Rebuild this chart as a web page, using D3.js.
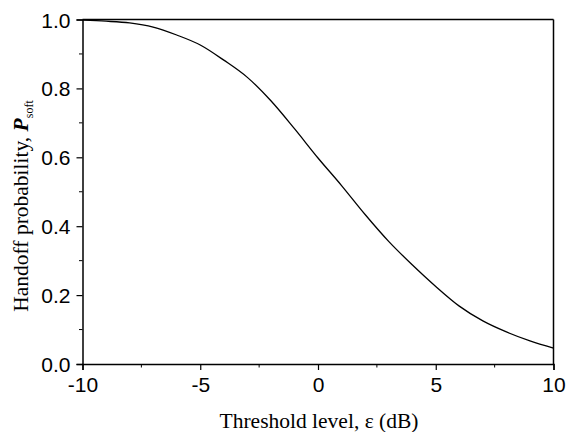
<!DOCTYPE html>
<html>
<head>
<meta charset="utf-8">
<script src="https://cdn.jsdelivr.net/npm/d3@7"></script>
<style>
  body { margin: 0; background: #fff; }
  svg { display: block; }
</style>
</head>
<body>
<svg id="chart"></svg>
<script>
const w = 566
const h = 432

// threshold level (dB) and soft handoff probability
const thresholds = [-10, -9, -8, -7, -6, -5, -4, -3, -2, -1, 0, 1, 2, 3, 4, 5, 6, 7, 8, 9, 10]
const probs = [0.998, 0.995, 0.99, 0.978, 0.955, 0.926, 0.882, 0.832, 0.764, 0.683, 0.598, 0.518, 0.434, 0.356, 0.288, 0.225, 0.168, 0.125, 0.093, 0.067, 0.046]
const xTicks = [-10, -5, 0, 5, 10]
const yTicks = [0.0, 0.2, 0.4, 0.6, 0.8, 1.0]

const margin = { left: 82.5, top: 19.5, right: 12.5, bottom: 68 }

const svg = d3.select('#chart')
	.attr('width', w)
	.attr('height', h)

const x = d3.scaleLinear().domain([-10, 10]).range([margin.left, w - margin.right])
const y = d3.scaleLinear().domain([0, 1]).range([h - margin.bottom, margin.top])

const data = thresholds.map((t, i) => ({ t, p: probs[i] }))

const sans = 'Liberation Sans, Arial, sans-serif'
const serif = 'Liberation Serif, Times New Roman, serif'

// minor ticks
const xMinor = d3.range(-10, 10.01, 2.5).filter(v => !xTicks.includes(v))
const yMinor = d3.range(0.1, 1, 0.2)

// bottom axis (plain hyphen for minus, like the original)
const xAxis = svg.append('g')
	.attr('transform', `translate(0, ${y(0)})`)
	.call(d3.axisBottom(x).tickValues(xTicks).tickSize(6).tickPadding(7).tickFormat(d => String(d)))
xAxis.selectAll('.tick text').attr('font-size', 21).attr('font-family', sans)
xAxis.append('g').selectAll('line').data(xMinor).enter().append('line')
	.attr('x1', d => x(d)).attr('x2', d => x(d))
	.attr('y1', 0).attr('y2', 3.5)
	.attr('stroke', '#000')

// left axis
const yAxis = svg.append('g')
	.attr('transform', `translate(${x(-10)}, 0)`)
	.call(d3.axisLeft(y).tickValues(yTicks).tickSize(6).tickPadding(6).tickFormat(d3.format('.1f')))
yAxis.selectAll('.tick text').attr('font-size', 21).attr('font-family', sans).attr('dy', '0.36em')
yAxis.append('g').selectAll('line').data(yMinor).enter().append('line')
	.attr('y1', d => y(d)).attr('y2', d => y(d))
	.attr('x1', 0).attr('x2', -3.5)
	.attr('stroke', '#000')

svg.selectAll('.domain').attr('stroke-width', 1.5)
svg.selectAll('.tick line').attr('stroke-width', 1.2)

// top and right frame
svg.append('line')
	.attr('x1', x(-10)).attr('x2', x(10))
	.attr('y1', y(1)).attr('y2', y(1))
	.attr('stroke', '#000').attr('stroke-width', 1.5)
svg.append('line')
	.attr('x1', x(10)).attr('x2', x(10))
	.attr('y1', y(1)).attr('y2', y(0))
	.attr('stroke', '#000').attr('stroke-width', 1.5)

// the curve
const line = d3.line()
	.x(d => x(d.t))
	.y(d => y(d.p))
	.curve(d3.curveMonotoneX)

svg.append('path')
	.datum(data)
	.attr('d', line)
	.attr('fill', 'none')
	.attr('stroke', '#000')
	.attr('stroke-width', 1.3)

// x title
svg.append('text')
	.attr('x', 319)
	.attr('y', 428)
	.attr('text-anchor', 'middle')
	.attr('font-family', serif)
	.attr('font-size', 21.5)
	.text('Threshold level, \u03b5 (dB)')

// y title
const yt = svg.append('text')
	.attr('transform', 'translate(28, 206) rotate(-90)')
	.attr('text-anchor', 'middle')
	.attr('font-family', serif)
	.attr('font-size', 21.5)
yt.append('tspan').text('Handoff probability, ')
yt.append('tspan').attr('font-weight', 'bold').attr('font-style', 'italic').text('P')
yt.append('tspan').attr('font-size', 12).attr('dy', 5).text('soft')
</script>
</body>
</html>
